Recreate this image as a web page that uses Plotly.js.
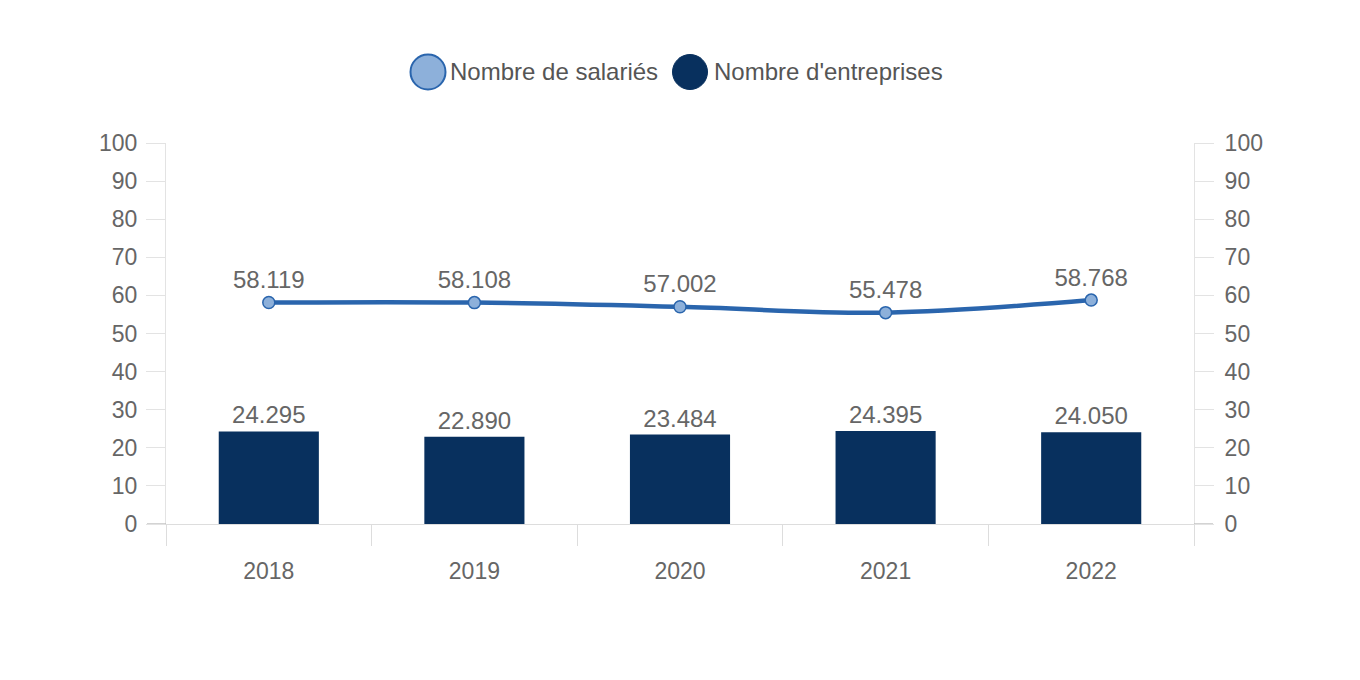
<!DOCTYPE html>
<html>
<head>
<meta charset="utf-8">
<script src="https://cdn.plot.ly/plotly-3.0.1.min.js"></script>
<style>html,body{margin:0;padding:0;background:#fff;}#chart{width:1360px;height:680px;}</style>
</head>
<body>
<div id="chart"></div>
<script>
const years = ['2018', '2019', '2020', '2021', '2022'];
const entreprises = [24.295, 22.890, 23.484, 24.395, 24.050];
const salaries = [58.119, 58.108, 57.002, 55.478, 58.768];
const entreprisesLabels = ['24.295', '22.890', '23.484', '24.395', '24.050'];
const salariesLabels = ['58.119', '58.108', '57.002', '55.478', '58.768'];
const yTicks = [0, 10, 20, 30, 40, 50, 60, 70, 80, 90, 100];
const seriesNames = ['Nombre de salariés', "Nombre d'entreprises"];

const FONT = 'Liberation Sans, Arial, Helvetica, sans-serif';
const TXT = '#666666';
const BAR = '#08305e';
const LINE = '#2a65ad';
const LIGHT = '#8db0da';

const traces = [
  {
    type: 'bar', x: years, y: entreprises, name: seriesNames[1],
    marker: {color: BAR}, text: entreprisesLabels, textposition: 'outside',
    textfont: {family: FONT, size: 24, color: TXT}, cliponaxis: false,
    showlegend: false, hoverinfo: 'x+y'
  },
  {
    type: 'scatter', mode: 'lines+markers+text', x: years, y: salaries, yaxis: 'y2',
    name: seriesNames[0], line: {color: LINE, width: 4.5, shape: 'spline', smoothing: 1},
    marker: {size: 12, color: LIGHT, line: {color: LINE, width: 1.5}},
    text: salariesLabels, textposition: 'top center',
    textfont: {family: FONT, size: 24, color: TXT}, cliponaxis: false,
    showlegend: false
  }
];

const W = 1028, H = 381;
const px = p => (p - 166) / W;
const py = p => (524 - p) / H;

const layout = {
  width: 1360, height: 680,
  margin: {l: 166, r: 166, t: 143, b: 156},
  paper_bgcolor: '#fff', plot_bgcolor: '#fff',
  font: {family: FONT, color: TXT, size: 23},
  bargap: 0.513,
  showlegend: false,
  xaxis: {
    type: 'category', tickson: 'boundaries', ticks: 'outside', ticklen: 21,
    tickcolor: '#dddddd', tickwidth: 1, showline: true, linecolor: '#dddddd', linewidth: 1,
    showgrid: false, zeroline: false, tickfont: {size: 23, color: TXT},
    ticklabelstandoff: 26
  },
  yaxis: {
    range: [0, 100], tickvals: yTicks, ticks: 'outside', ticklen: 19, tickcolor: '#e3e3e3',
    showline: true, linecolor: '#e3e3e3', linewidth: 1, showgrid: false, zeroline: false,
    tickfont: {size: 23, color: TXT}, ticklabelstandoff: 4, fixedrange: true
  },
  yaxis2: {
    range: [0, 100], tickvals: yTicks, overlaying: 'y', side: 'right', ticks: 'outside',
    ticklen: 19, tickcolor: '#e3e3e3', showline: true, linecolor: '#e3e3e3', linewidth: 1,
    showgrid: false, zeroline: false, tickfont: {size: 23, color: TXT}, ticklabelstandoff: 6
  },
  shapes: [
    {type: 'line', xref: 'paper', yref: 'y', x0: -19 / W, x1: 0, y0: 0, y1: 0, line: {color: '#b5b5b5', width: 1.2}},
    {type: 'line', xref: 'paper', yref: 'y', x0: 1, x1: 1 + 19 / W, y0: 0, y1: 0, line: {color: '#b5b5b5', width: 1.2}},
    {type: 'line', xref: 'paper', yref: 'y', x0: 0, x1: 0, y0: 0, y1: -21 / H * 100, line: {color: '#b5b5b5', width: 1.2}},
    {type: 'circle', xref: 'paper', yref: 'paper', xsizemode: 'pixel', ysizemode: 'pixel',
      xanchor: px(428), yanchor: py(72), x0: -17.5, x1: 17.5, y0: -17.5, y1: 17.5,
      fillcolor: LIGHT, line: {color: LINE, width: 2}},
    {type: 'circle', xref: 'paper', yref: 'paper', xsizemode: 'pixel', ysizemode: 'pixel',
      xanchor: px(690), yanchor: py(72), x0: -17.5, x1: 17.5, y0: -17.5, y1: 17.5,
      fillcolor: BAR, line: {color: BAR, width: 1}}
  ],
  annotations: [
    {xref: 'paper', yref: 'paper', x: px(448), y: py(72), xanchor: 'left', yanchor: 'middle',
      text: seriesNames[0], showarrow: false, font: {family: FONT, size: 24, color: '#555'}},
    {xref: 'paper', yref: 'paper', x: px(712), y: py(72), xanchor: 'left', yanchor: 'middle',
      text: seriesNames[1], showarrow: false, font: {family: FONT, size: 24, color: '#555'}}
  ]
};

Plotly.newPlot('chart', traces, layout, {displayModeBar: false, staticPlot: true});
</script>
</body>
</html>
